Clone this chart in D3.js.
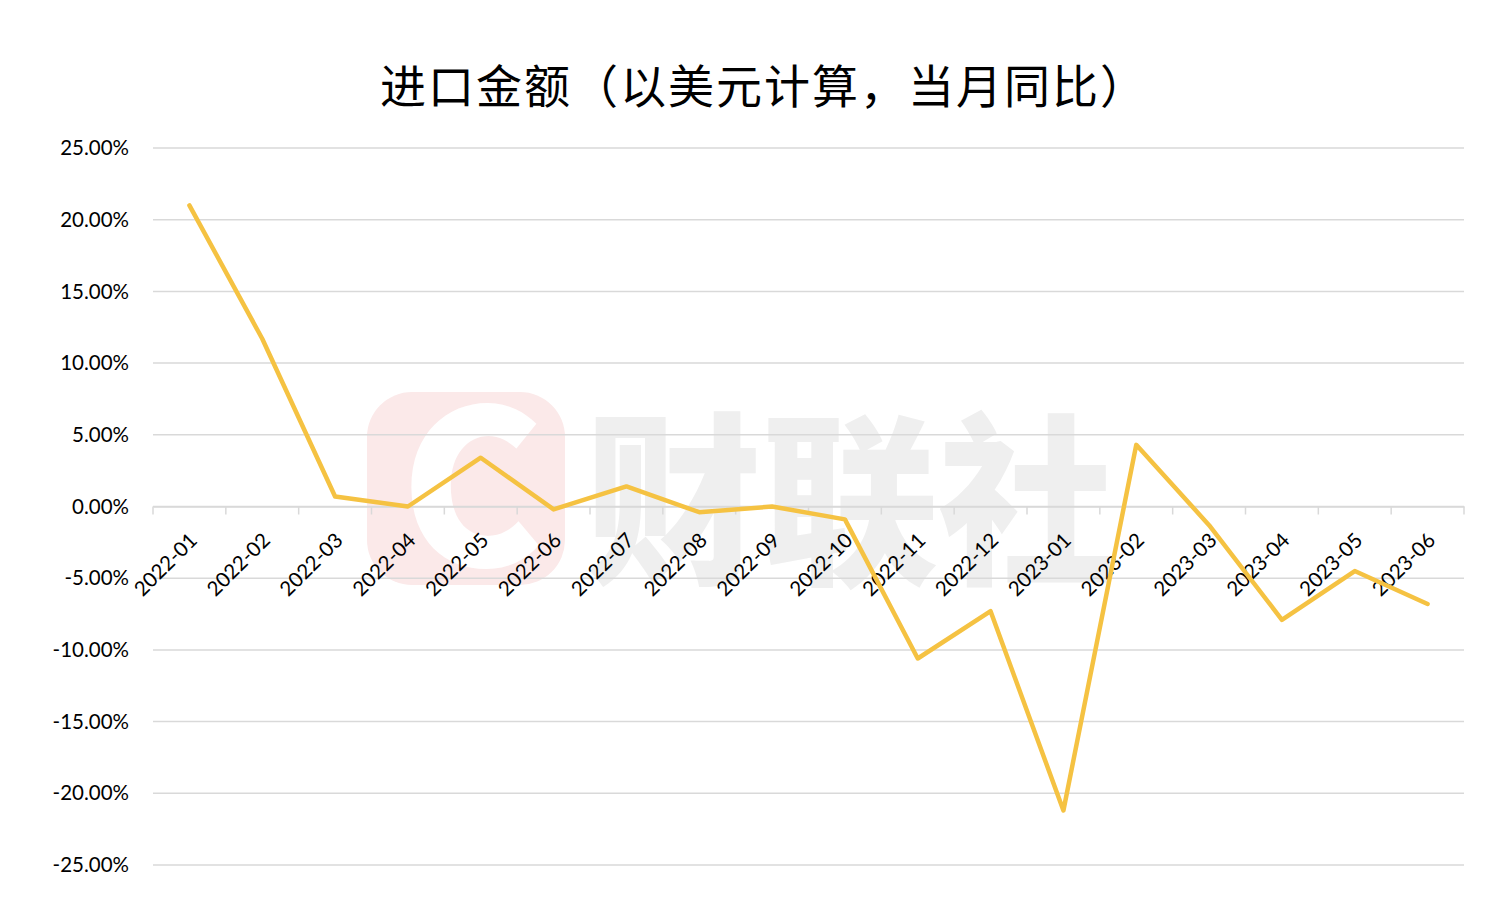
<!DOCTYPE html>
<html><head><meta charset="utf-8">
<script src="https://cdn.jsdelivr.net/npm/d3@7/dist/d3.min.js"></script>
<style>body{margin:0;background:#fff}svg{display:block}</style>
</head><body>
<script>
const categories = ["2022-01","2022-02","2022-03","2022-04","2022-05","2022-06","2022-07","2022-08","2022-09","2022-10","2022-11","2022-12","2023-01","2023-02","2023-03","2023-04","2023-05","2023-06"];
const values = [21.0, 11.7, 0.7, 0.0, 3.4, -0.2, 1.4, -0.4, 0.0, -0.9, -10.6, -7.3, -21.2, 4.3, -1.3, -7.9, -4.5, -6.8];
const yTicks = [25, 20, 15, 10, 5, 0, -5, -10, -15, -20, -25];
const title = "进口金额（以美元计算，当月同比）";

const W = 1500, H = 908;
const m = {left: 153, right: 36, top: 148, bottom: 43};
const svg = d3.select("body").append("svg").attr("width", W).attr("height", H);

const x = d3.scaleBand().domain(categories).range([m.left, W - m.right]).padding(0);
const y = d3.scaleLinear().domain([-25, 25]).range([H - m.bottom, m.top]);

// watermark (beneath)
const wm = svg.append("g").attr("pointer-events", "none");
wm.append("rect").attr("x", 367).attr("y", 392).attr("width", 198).attr("height", 193).attr("rx", 45)
  .attr("fill", "#fbe9e9");
wm.append("text").attr("x", 472).attr("y", 566).attr("text-anchor", "middle")
  .attr("font-family", "'Noto Sans CJK SC', sans-serif").attr("font-weight", 900).attr("font-size", 215)
  .attr("fill", "#ffffff").text("C");
wm.append("text").attr("x", 585).attr("y", 570).attr("textLength", 530).attr("lengthAdjust", "spacingAndGlyphs")
  .attr("font-family", "'Noto Sans CJK SC', sans-serif").attr("font-weight", 900).attr("font-size", 185)
  .attr("fill", "#efefef").text("财联社");

// title
svg.append("text").attr("x", 764).attr("y", 103).attr("text-anchor", "middle")
  .attr("font-family", "'Noto Sans CJK SC', sans-serif").attr("font-size", 46).attr("letter-spacing", 2)
  .attr("fill", "#000").text(title);

// gridlines
svg.append("g").selectAll("line").data(yTicks).join("line")
  .attr("x1", m.left).attr("x2", W - m.right)
  .attr("y1", d => y(d)).attr("y2", d => y(d))
  .attr("stroke", "#d9d9d9").attr("stroke-width", 1.5);

// y labels
svg.append("g").selectAll("text").data(yTicks).join("text")
  .attr("x", 129).attr("y", d => y(d)).attr("dy", "0.35em").attr("text-anchor", "end")
  .attr("font-family", "Lato, 'Open Sans', sans-serif").attr("font-size", 20.5).attr("fill", "#000")
  .text(d => d.toFixed(2) + "%");

// x axis at zero
const xAxis = d3.axisBottom(x).tickSize(0).tickFormat("");
const gx = svg.append("g").attr("transform", `translate(0,${y(0)})`).call(xAxis);
gx.select(".domain").attr("stroke", "#d9d9d9").attr("stroke-width", 1.5);
const bounds = categories.map(c => x(c)).concat([x(categories[categories.length-1]) + x.bandwidth()]);
gx.selectAll(".btick").data(bounds).join("line").attr("class","btick")
  .attr("x1", d => d).attr("x2", d => d).attr("y1", 0).attr("y2", 8)
  .attr("stroke", "#d9d9d9").attr("stroke-width", 1.5);
gx.selectAll(".xl").data(categories).join("text").attr("class","xl")
  .attr("transform", d => `translate(${x(d) + x.bandwidth()/2 + 4},${30}) rotate(-45)`)
  .attr("text-anchor", "end").attr("dy", "0.35em")
  .attr("font-family", "Lato, 'Open Sans', sans-serif").attr("font-size", 20.5).attr("fill", "#000")
  .text(d => d);

// line
const line = d3.line().x((d, i) => x(categories[i]) + x.bandwidth()/2).y(d => y(d));
svg.append("path").datum(values).attr("d", line)
  .attr("fill", "none").attr("stroke", "#F5C242").attr("stroke-width", 4.5)
  .attr("stroke-linejoin", "round").attr("stroke-linecap", "round");
</script>
</body></html>
